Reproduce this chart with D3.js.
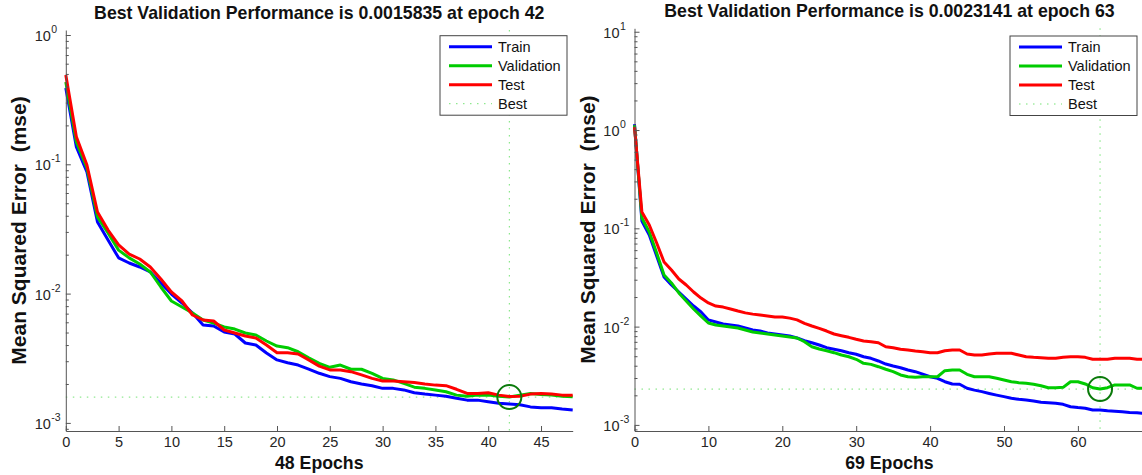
<!DOCTYPE html>
<html>
<head>
<meta charset="utf-8">
<script src="https://cdn.jsdelivr.net/npm/d3@7"></script>
<style>
body { margin: 0; background: #fff; }
svg { display: block; font-family: "Liberation Sans", Arial, sans-serif; }
</style>
</head>
<body>
<div id="chart"></div>
<script>
// ---- left panel data (48 epochs) ----
var epochsA = d3.range(0, 49);
var trainA = [0.389, 0.136, 0.0872, 0.0358, 0.0260, 0.0189, 0.01725, 0.01606, 0.01469, 0.01208,
    0.00993, 0.00846, 0.00708, 0.00572, 0.00562, 0.00505, 0.00487, 0.00415, 0.00400, 0.00347,
    0.00307, 0.00292, 0.00280, 0.00261, 0.00242, 0.00228, 0.00221, 0.00208, 0.00200, 0.00194,
    0.00185, 0.00185, 0.00180, 0.00171, 0.00167, 0.00164, 0.00161, 0.00155, 0.00150, 0.00150,
    0.00146, 0.00142, 0.00140, 0.00138, 0.00133, 0.00131, 0.00131, 0.00128, 0.00126];
var valA = [0.433, 0.149, 0.0936, 0.0391, 0.0294, 0.0217, 0.0189, 0.01694, 0.01469, 0.01125,
    0.00877, 0.00788, 0.00708, 0.00625, 0.00592, 0.00552, 0.00532, 0.00496, 0.00478, 0.00430,
    0.00393, 0.00382, 0.00355, 0.00319, 0.00289, 0.00269, 0.00280, 0.00260, 0.00260, 0.00242,
    0.00221, 0.00215, 0.00202, 0.00189, 0.00185, 0.00180, 0.00174, 0.00164, 0.00161, 0.00164,
    0.00164, 0.00161, 0.0015835, 0.00164, 0.00169, 0.00166, 0.00164, 0.00161, 0.00159];
var testA = [0.490, 0.163, 0.0988, 0.0428, 0.0310, 0.0238, 0.0202, 0.01852, 0.01606, 0.01297,
    0.01029, 0.00877, 0.00683, 0.00625, 0.00614, 0.00523, 0.00496, 0.00470, 0.00453, 0.00400,
    0.00349, 0.00349, 0.00341, 0.00307, 0.00275, 0.00257, 0.00257, 0.00249, 0.00235, 0.00221,
    0.00211, 0.00211, 0.00208, 0.00205, 0.00200, 0.00196, 0.00194, 0.00182, 0.00169, 0.00169,
    0.00171, 0.00164, 0.00160, 0.00161, 0.00167, 0.00169, 0.00167, 0.00164, 0.00164];
var bestEpochA = 42, bestValueA = 0.0015835;
var xTicksA = [0, 5, 10, 15, 20, 25, 30, 35, 40, 45];
var yExpsA = [-3, -2, -1, 0];

// ---- right panel data (69 epochs) ----
var epochsB = d3.range(0, 70);
var trainB = [1.151, 0.1187, 0.0855, 0.0523, 0.0320, 0.0265, 0.0225, 0.0191, 0.0162, 0.01408,
    0.0117, 0.01114, 0.01063, 0.01038, 0.01014, 0.00968, 0.00924, 0.00902, 0.00861, 0.00841,
    0.00821, 0.00802, 0.00766, 0.00719, 0.00686, 0.00650, 0.00610, 0.00588, 0.00569, 0.00543,
    0.00523, 0.00494, 0.00476, 0.00447, 0.00416, 0.00397, 0.00382, 0.00362, 0.00348, 0.00329,
    0.00309, 0.00298, 0.00275, 0.00261, 0.00259, 0.00236, 0.00226, 0.00218, 0.00209, 0.00201,
    0.00194, 0.00187, 0.00182, 0.00179, 0.00175, 0.00170, 0.00168, 0.00166, 0.00162, 0.00153,
    0.00150, 0.00148, 0.00142, 0.00142, 0.00139, 0.00138, 0.00136, 0.00134, 0.00133, 0.00131];
var valB = [1.124, 0.1273, 0.0917, 0.0561, 0.0335, 0.0278, 0.0220, 0.0182, 0.0151, 0.0128,
    0.01088, 0.01038, 0.01014, 0.00991, 0.00968, 0.00924, 0.00881, 0.00861, 0.00841, 0.00821,
    0.00802, 0.00784, 0.00766, 0.00702, 0.00624, 0.00592, 0.00569, 0.00543, 0.00514, 0.00494,
    0.00465, 0.00423, 0.00413, 0.00391, 0.00368, 0.00348, 0.00322, 0.00309, 0.00305, 0.00309,
    0.00309, 0.00309, 0.00356, 0.00362, 0.00362, 0.00327, 0.00309, 0.00309, 0.00309, 0.00298,
    0.00286, 0.00275, 0.00269, 0.00265, 0.00259, 0.00250, 0.00239, 0.00239, 0.00241, 0.00275,
    0.00275, 0.00261, 0.00239, 0.0023141, 0.00239, 0.00255, 0.00255, 0.00255, 0.00236, 0.00236];
var testB = [1.073, 0.1465, 0.1080, 0.0709, 0.0454, 0.0376, 0.0305, 0.0265, 0.0225, 0.0195,
    0.0174, 0.0162, 0.0158, 0.0151, 0.0144, 0.0138, 0.0134, 0.0131, 0.0128, 0.0125,
    0.0125, 0.0122, 0.0117, 0.0108, 0.01014, 0.00961, 0.00902, 0.00841, 0.00808, 0.00778,
    0.00743, 0.00714, 0.00702, 0.00686, 0.00624, 0.00610, 0.00588, 0.00578, 0.00565, 0.00556,
    0.00543, 0.00543, 0.00569, 0.00578, 0.00578, 0.00526, 0.00514, 0.00514, 0.00526, 0.00535,
    0.00535, 0.00535, 0.00514, 0.00494, 0.00487, 0.00483, 0.00476, 0.00476, 0.00487, 0.00494,
    0.00494, 0.00487, 0.00465, 0.00465, 0.00465, 0.00476, 0.00476, 0.00476, 0.00465, 0.00465];
var bestEpochB = 63, bestValueB = 0.0023141;
var xTicksB = [0, 10, 20, 30, 40, 50, 60];
var yExpsB = [-3, -2, -1, 0, 1];

var legendNames = ["Train", "Validation", "Test", "Best"];
var seriesColors = ["#0000ff", "#00cc00", "#ff0000"];

var svg = d3.select("#chart").append("svg")
    .attr("width", 1142)
    .attr("height", 475);

drawPanel({
    left: 65.8, top: 30, width: 506.9, height: 401,
    yDomain: [Math.pow(10, -3.0626), Math.pow(10, 0.0387)],
    epochs: epochsA, series: [trainA, valA, testA],
    bestEpoch: bestEpochA, bestValue: bestValueA,
    xTicks: xTicksA, yExps: yExpsA,
    legendX: 440, legendY: 35.7
});
drawPanel({
    left: 634.5, top: 28.3, width: 509.9, height: 402.7,
    yDomain: [Math.pow(10, -3.062), Math.pow(10, 1.035)],
    epochs: epochsB, series: [trainB, valB, testB],
    bestEpoch: bestEpochB, bestValue: bestValueB,
    xTicks: xTicksB, yExps: yExpsB,
    legendX: 1010, legendY: 36
});

function drawPanel(p) {
    var nEpochs = p.epochs[p.epochs.length - 1];
    var x = d3.scaleLinear().domain([0, nEpochs]).range([0, p.width]);
    var y = d3.scaleLog().domain(p.yDomain).range([p.height, 0]);

    var g = svg.append("g")
        .attr("transform", "translate(" + p.left + "," + p.top + ")");

    // best epoch / best value dotted guides
    g.append("line")
        .attr("x1", x(p.bestEpoch)).attr("x2", x(p.bestEpoch))
        .attr("y1", 0).attr("y2", p.height)
        .attr("stroke", "#00cc00").attr("stroke-opacity", 0.55)
        .attr("stroke-dasharray", "1.5,5.5");
    g.append("line")
        .attr("x1", 0).attr("x2", p.width)
        .attr("y1", y(p.bestValue)).attr("y2", y(p.bestValue))
        .attr("stroke", "#00cc00").attr("stroke-opacity", 0.55)
        .attr("stroke-dasharray", "1.5,5.5");

    // train / validation / test curves
    var line = d3.line()
        .x(function(d, i) { return x(p.epochs[i]); })
        .y(function(d) { return y(d); });
    p.series.forEach(function(s, k) {
        g.append("path")
            .datum(s)
            .attr("d", line)
            .attr("fill", "none")
            .attr("stroke", seriesColors[k])
            .attr("stroke-width", 3)
            .attr("stroke-linejoin", "round");
    });

    // best point marker
    g.append("circle")
        .attr("cx", x(p.bestEpoch))
        .attr("cy", y(p.bestValue))
        .attr("r", 12)
        .attr("fill", "none")
        .attr("stroke", "#0a7a0a")
        .attr("stroke-width", 2);

    // x axis (ticks point inward)
    var xAxis = g.append("g")
        .attr("transform", "translate(0," + p.height + ")")
        .call(d3.axisBottom(x).tickValues(p.xTicks).tickSize(-5).tickSizeOuter(0).tickPadding(6));
    styleAxis(xAxis);

    // y axis major + minor ticks
    var majors = p.yExps.map(function(e) { return Math.pow(10, e); });
    var minors = [];
    for (var e = -4; e <= 1; e++) {
        for (var m = 2; m <= 9; m++) {
            var v = m * Math.pow(10, e);
            if (v >= p.yDomain[0] && v <= p.yDomain[1]) minors.push(v);
        }
    }
    var yAxis = g.append("g")
        .call(d3.axisLeft(y).tickValues(majors).tickSize(-5).tickSizeOuter(0).tickFormat(""));
    styleAxis(yAxis);
    var yMinor = g.append("g")
        .call(d3.axisLeft(y).tickValues(minors).tickSize(-3).tickSizeOuter(0).tickFormat(""));
    yMinor.select(".domain").remove();
    yMinor.selectAll("line").attr("stroke", "#555");

    // y tick labels as 10^n
    var lab = g.append("g").attr("fill", "#262626");
    p.yExps.forEach(function(e) {
        var ty = y(Math.pow(10, e));
        lab.append("text")
            .attr("x", -15).attr("y", ty + 6)
            .attr("text-anchor", "end")
            .attr("font-size", 14.5)
            .text("10");
        lab.append("text")
            .attr("x", -14.5).attr("y", ty - 2)
            .attr("text-anchor", "start")
            .attr("font-size", 10.5)
            .text(String(e));
    });

    // title and axis labels
    g.append("text")
        .attr("x", p.width / 2).attr("y", -11)
        .attr("text-anchor", "middle")
        .attr("font-size", 17.7).attr("font-weight", "bold")
        .attr("fill", "#111")
        .text("Best Validation Performance is " + p.bestValue + " at epoch " + p.bestEpoch);
    g.append("text")
        .attr("x", p.width / 2).attr("y", p.height + 38)
        .attr("text-anchor", "middle")
        .attr("font-size", 17.7).attr("font-weight", "bold")
        .attr("fill", "#111")
        .text(nEpochs + " Epochs");
    g.append("text")
        .attr("transform", "translate(-47.5," + (p.height / 2) + ") rotate(-90)")
        .attr("text-anchor", "middle")
        .attr("dominant-baseline", "central")
        .attr("font-size", 21).attr("font-weight", "bold")
        .attr("fill", "#111")
        .style("white-space", "pre")
        .text("Mean Squared Error  (mse)");

    drawLegend(p.legendX, p.legendY);
}

function styleAxis(ax) {
    ax.select(".domain").attr("stroke", "#555");
    ax.selectAll("line").attr("stroke", "#555");
    ax.selectAll("text")
        .attr("font-family", "Liberation Sans, Arial, sans-serif")
        .attr("font-size", 14.5)
        .attr("fill", "#262626");
}

function drawLegend(lx, ly) {
    var lg = svg.append("g").attr("transform", "translate(" + lx + "," + ly + ")");
    lg.append("rect")
        .attr("width", 127).attr("height", 79.5)
        .attr("fill", "#fff")
        .attr("stroke", "#444")
        .attr("stroke-width", 1);
    legendNames.forEach(function(name, i) {
        var ry = 11 + i * 19;
        var ln = lg.append("line")
            .attr("x1", 9).attr("x2", 52)
            .attr("y1", ry).attr("y2", ry);
        if (i < 3) {
            ln.attr("stroke", seriesColors[i]).attr("stroke-width", 3);
        } else {
            ln.attr("stroke", "#00cc00").attr("stroke-opacity", 0.55)
              .attr("stroke-dasharray", "1.5,5.5");
        }
        lg.append("text")
            .attr("x", 58).attr("y", ry + 5)
            .attr("font-size", 14.5)
            .attr("fill", "#111")
            .text(name);
    });
}
</script>
</body>
</html>
